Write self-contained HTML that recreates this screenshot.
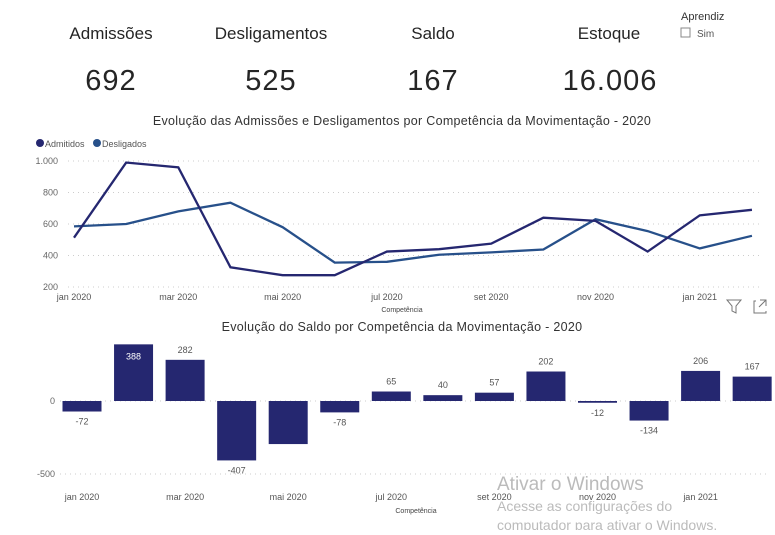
<!DOCTYPE html>
<html><head><meta charset="utf-8"><style>
body{margin:0;background:#fff;width:775px;height:530px;overflow:hidden;font-family:"Liberation Sans",sans-serif;}
svg text{font-family:"Liberation Sans",sans-serif;}
</style></head><body>
<svg id="s" width="775" height="530" xmlns="http://www.w3.org/2000/svg">
<g font-size="17" fill="#252525" text-anchor="middle">
<text x="111" y="39">Admissões</text>
<text x="271" y="39">Desligamentos</text>
<text x="433" y="39">Saldo</text>
<text x="609" y="39">Estoque</text>
</g>
<g font-size="29" fill="#252525" text-anchor="middle" letter-spacing="1">
<text x="111" y="90">692</text>
<text x="271" y="90">525</text>
<text x="433" y="90">167</text>
<text x="610" y="90">16.006</text>
</g>
<text x="681" y="20" font-size="11" fill="#333">Aprendiz</text>
<rect x="681" y="28" width="9" height="9" fill="none" stroke="#888"/>
<text x="697" y="37" font-size="10" fill="#555">Sim</text>
<text x="402" y="125" font-size="12.5" fill="#333" text-anchor="middle" letter-spacing="0.3">Evolução das Admissões e Desligamentos por Competência da Movimentação - 2020</text>
<circle cx="40" cy="143" r="4" fill="#252770"/><text x="45" y="147" font-size="9" fill="#555">Admitidos</text>
<circle cx="97" cy="143" r="4" fill="#27508a"/><text x="102" y="147" font-size="9" fill="#555">Desligados</text>
<text x="402" y="331" font-size="12.5" fill="#333" text-anchor="middle" letter-spacing="0.3">Evolução do Saldo por Competência da Movimentação - 2020</text>
<g id="g"></g>
<text x="497" y="490" font-size="19" fill="#bbb">Ativar o Windows</text>
<text x="497" y="511" font-size="14" fill="#bbb">Acesse as configurações do</text>
<text x="497" y="530" font-size="14" fill="#bbb">computador para ativar o Windows.</text>
<path d="M727 300h14l-5 6v7l-4-2v-5z" fill="none" stroke="#777"/>
<path d="M756 301h-2v12h12v-2M760 300h6v6M766 300l-7 7" fill="none" stroke="#777"/>
</svg>
<script>
var g=document.getElementById('g'),h='';
var ad=[513,990,960,325,275,275,425,440,475,640,620,425,655,690];
var de=[585,600,680,735,580,355,360,405,420,438,630,555,445,525];
function X(i){return 74+i*52.15}function Y(v){return 287-(v-200)*0.1575}
[200,400,600,800,1000].forEach(function(v){h+='<line x1="68" x2="760" y1="'+Y(v)+'" y2="'+Y(v)+'" stroke="#ccc" stroke-dasharray="1,4"/>';h+='<text x="58" y="'+(Y(v)+3)+'" font-size="9" fill="#666" text-anchor="end">'+(v==1000?'1.000':v)+'</text>';});
function pl(a,c){return '<polyline fill="none" stroke="'+c+'" stroke-width="2.3" points="'+a.map(function(v,i){return X(i)+','+Y(v)}).join(' ')+'"/>'}
h+=pl(de,'#27508a')+pl(ad,'#252770');
var lb=['jan 2020','mar 2020','mai 2020','jul 2020','set 2020','nov 2020','jan 2021'];
lb.forEach(function(l,k){h+='<text x="'+X(k*2)+'" y="300" font-size="9" fill="#555" text-anchor="middle">'+l+'</text>';});
h+='<text x="402" y="312" font-size="7" fill="#444" text-anchor="middle">Competência</text>';
var sb=[-72,388,282,-407,-295,-78,65,40,57,202,-12,-134,206,167];
function B(i){return 82+i*51.55}function Z(v){return 401-v*0.146}
[0,-500].forEach(function(v){h+='<line x1="60" x2="770" y1="'+Z(v)+'" y2="'+Z(v)+'" stroke="#ccc" stroke-dasharray="1,4"/>';h+='<text x="55" y="'+(Z(v)+3)+'" font-size="9" fill="#666" text-anchor="end">'+v+'</text>';});
sb.forEach(function(v,i){var y=Math.min(Z(v),401),hh=Math.max(Math.abs(v*0.146),1.5);h+='<rect x="'+(B(i)-19.5)+'" y="'+y+'" width="39" height="'+hh+'" fill="#252770"/>';
if(i==4)return;var ty,c='#555';if(i==1){ty=Z(v)+15;c='#fff'}else if(v>=0)ty=Z(v)-7;else ty=Z(v)+13;
h+='<text x="'+B(i)+'" y="'+ty+'" font-size="9" fill="'+c+'" text-anchor="middle">'+v+'</text>';});
lb.forEach(function(l,k){h+='<text x="'+B(k*2)+'" y="500" font-size="9" fill="#555" text-anchor="middle">'+l+'</text>';});
h+='<text x="416" y="513" font-size="7" fill="#444" text-anchor="middle">Competência</text>';
g.innerHTML=h;
</script>
</body></html>
